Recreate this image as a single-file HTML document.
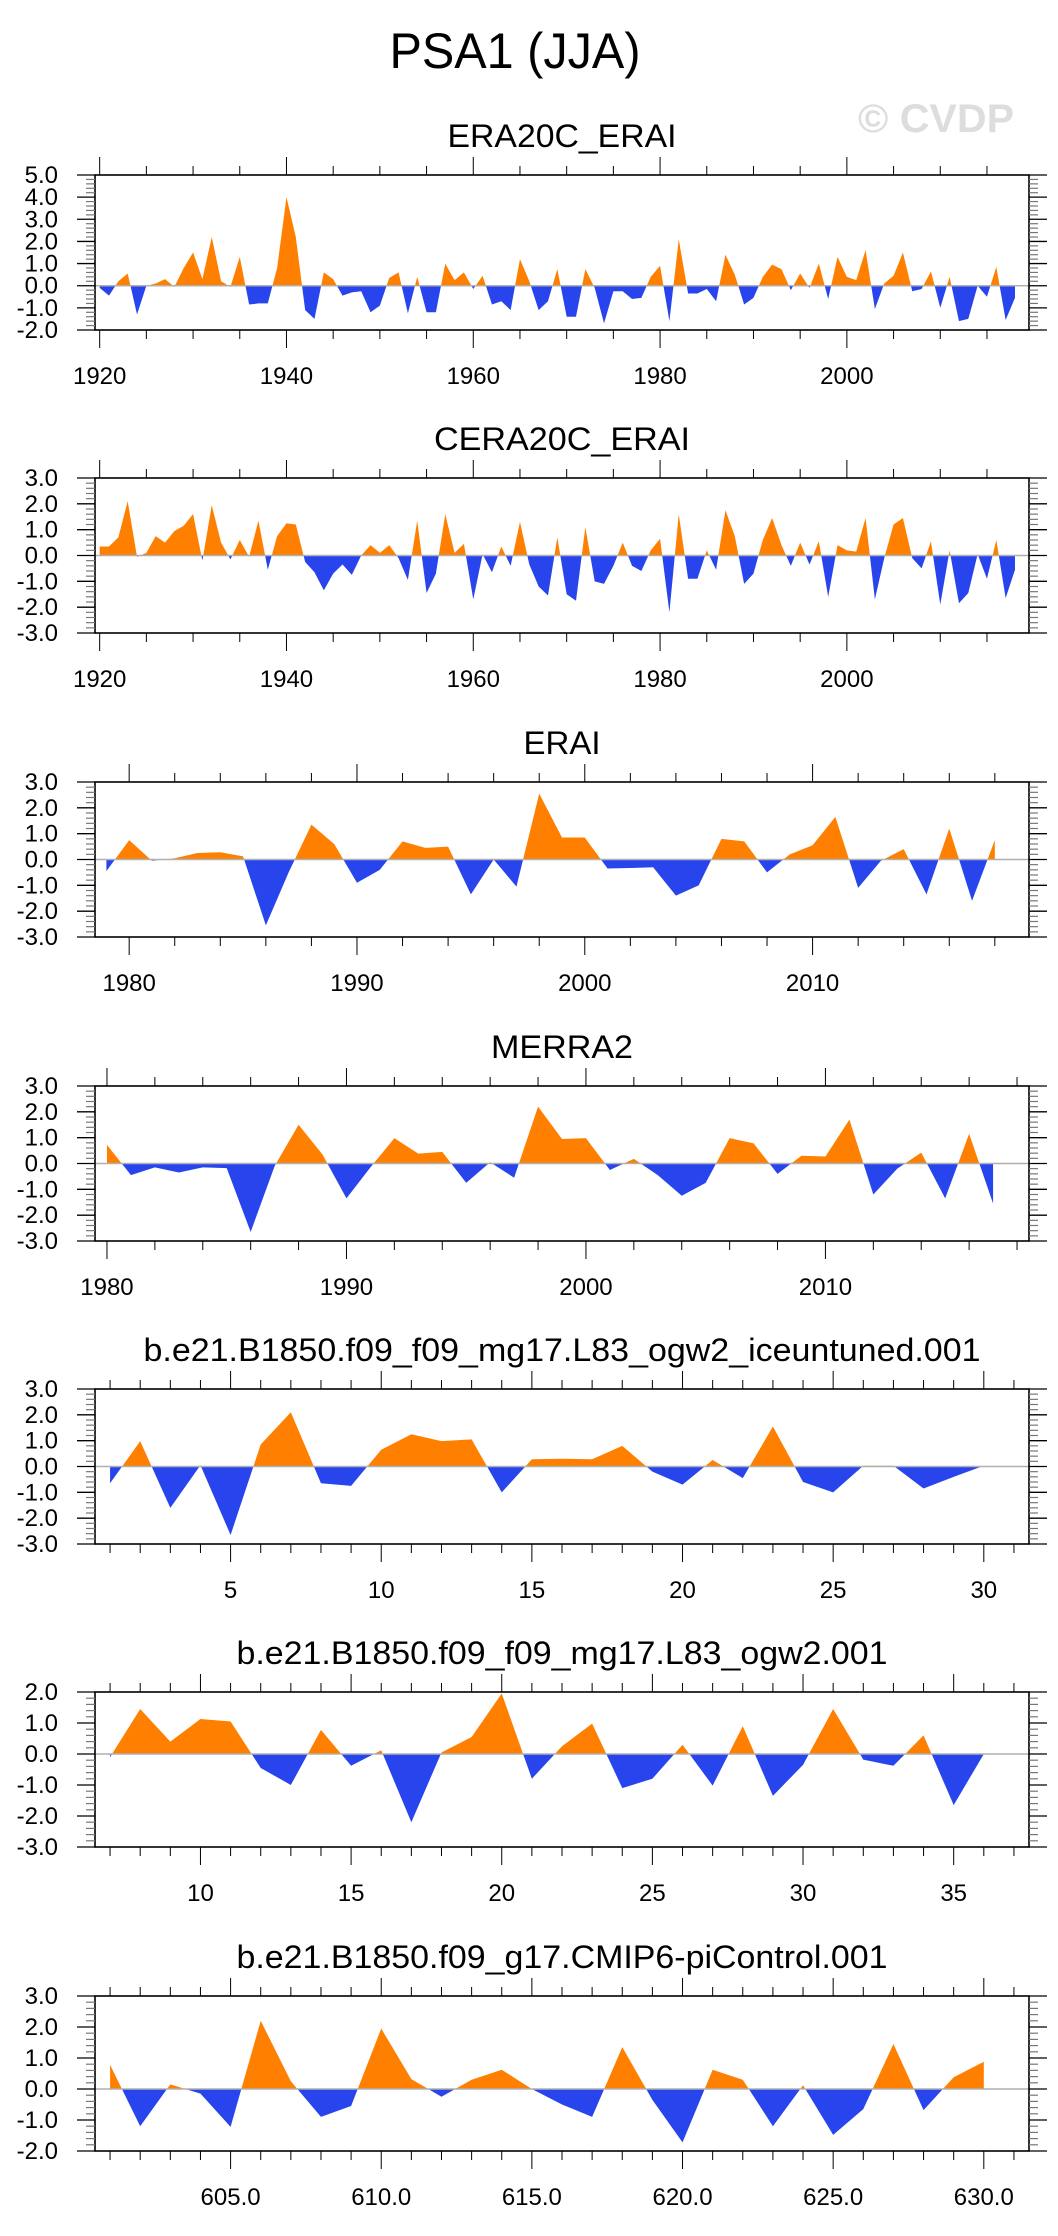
<!DOCTYPE html>
<html><head><meta charset="utf-8"><style>
html,body{margin:0;padding:0;background:#fff;}
svg{display:block;font-family:"Liberation Sans",Arial,sans-serif;}
</style></head><body>
<svg id="chart" width="1058" height="2236" viewBox="0 0 1058 2236" xmlns="http://www.w3.org/2000/svg">
<text x="515" y="68" font-size="50" text-anchor="middle" textLength="251" lengthAdjust="spacingAndGlyphs">PSA1 (JJA)</text>
<text x="858" y="132" font-size="40" font-weight="bold" fill="#dddddd" textLength="156" lengthAdjust="spacingAndGlyphs">© CVDP</text>
</svg>
<script>
// ---- data ----
const era20cYears = [1920, 2018];
const era20cValues = [-0.1,-0.45,0.2,0.55,-1.3,0,0.1,0.3,-0.05,0.8,1.5,0.3,2.2,0.2,-0.05,1.3,-0.85,-0.8,-0.8,0.8,4.0,2.2,-1.1,-1.5,0.6,0.3,-0.45,-0.3,-0.25,-1.2,-0.9,0.35,0.6,-1.25,0.4,-1.2,-1.2,1.0,0.25,0.6,-0.15,0.45,-0.85,-0.7,-1.1,1.2,0.2,-1.1,-0.7,0.75,-1.4,-1.4,0.75,-0.1,-1.7,-0.25,-0.25,-0.6,-0.55,0.4,0.9,-1.6,2.1,-0.35,-0.35,-0.15,-0.7,1.4,0.5,-0.85,-0.55,0.4,0.95,0.75,-0.2,0.55,-0.1,1.0,-0.6,1.3,0.4,0.25,1.6,-1.05,0.1,0.45,1.5,-0.25,-0.15,0.65,-1.0,0.4,-1.6,-1.5,0.0,-0.5,0.85,-1.55,-0.55];
const cera20cValues = [0.35,0.35,0.7,2.1,-0.05,0.1,0.75,0.5,0.95,1.15,1.6,-0.2,1.95,0.5,-0.15,0.6,-0.05,1.35,-0.55,0.75,1.25,1.2,-0.25,-0.65,-1.35,-0.7,-0.35,-0.75,0.0,0.4,0.1,0.4,-0.1,-0.95,1.35,-1.45,-0.7,1.6,0.1,0.45,-1.7,0.05,-0.65,0.35,-0.4,1.3,-0.35,-1.2,-1.55,0.7,-1.5,-1.75,1.1,-1.0,-1.1,-0.4,0.5,-0.4,-0.6,0.2,0.65,-2.2,1.6,-0.9,-0.9,0.2,-0.55,1.75,0.75,-1.1,-0.7,0.6,1.45,0.4,-0.4,0.5,-0.35,0.55,-1.6,0.4,0.2,0.15,1.45,-1.7,-0.1,1.2,1.45,-0.1,-0.5,0.55,-1.9,0.2,-1.85,-1.45,0.05,-0.9,0.6,-1.65,-0.55];
const eraiValues = [-0.45,0.75,-0.05,0.05,0.25,0.28,0.12,-2.55,-0.5,1.35,0.6,-0.9,-0.4,0.7,0.45,0.5,-1.35,0.0,-1.05,2.55,0.85,0.85,-0.35,-0.33,-0.3,-1.4,-1.0,0.8,0.7,-0.5,0.2,0.55,1.65,-1.1,-0.05,0.4,-1.35,1.2,-1.6,0.75];
const merra2Values = [0.72,-0.45,-0.15,-0.35,-0.15,-0.18,-2.65,-0.1,1.5,0.35,-1.35,-0.15,0.98,0.38,0.45,-0.75,0.05,-0.55,2.2,0.95,0.98,-0.25,0.18,-0.45,-1.25,-0.75,0.98,0.78,-0.4,0.3,0.27,1.7,-1.2,-0.2,0.42,-1.35,1.15,-1.55];
const iceuntunedValues = [-0.65,0.98,-1.6,0.05,-2.65,0.85,2.1,-0.65,-0.75,0.65,1.25,0.98,1.05,-1.0,0.28,0.3,0.28,0.8,-0.2,-0.7,0.25,-0.45,1.55,-0.6,-1.0,0.03,0.03,-0.85,-0.4,0.03];
const ogw2Values = [-0.1,1.45,0.4,1.13,1.05,-0.45,-1.0,0.78,-0.38,0.12,-2.2,0.05,0.55,1.95,-0.8,0.25,0.98,-1.1,-0.8,0.3,-1.02,0.9,-1.35,-0.35,1.45,-0.18,-0.38,0.6,-1.65,0.0];
const picontrolValues = [0.78,-1.2,0.15,-0.15,-1.22,2.2,0.25,-0.9,-0.55,1.95,0.32,-0.25,0.3,0.62,0.0,-0.5,-0.9,1.35,-0.35,-1.72,0.62,0.3,-1.2,0.12,-1.48,-0.65,1.45,-0.68,0.38,0.88];
const panelTitles = ["ERA20C_ERAI","CERA20C_ERAI","ERAI","MERRA2","b.e21.B1850.f09_f09_mg17.L83_ogw2_iceuntuned.001","b.e21.B1850.f09_f09_mg17.L83_ogw2.001","b.e21.B1850.f09_g17.CMIP6-piControl.001"];
const xStarts = [1920,1920,1979,1980,1,7,601];
const yRanges = [[-2,5],[-3,3],[-3,3],[-3,3],[-3,3],[-3,2],[-2,3]];
const xRanges = [[1919.5,2019.5],[1919.5,2019.5],[1978.5,2019.5],[1979.5,2018.5],[0.5,31.5],[6.5,37.5],[600.5,631.5]];
const xLabelValues = [[1920,1940,1960,1980,2000],[1920,1940,1960,1980,2000],[1980,1990,2000,2010],[1980,1990,2000,2010],[5,10,15,20,25,30],[10,15,20,25,30,35],[605,610,615,620,625,630]];
const allValues = [era20cValues,cera20cValues,eraiValues,merra2Values,iceuntunedValues,ogw2Values,picontrolValues];

// ---- layout ----
const NS="http://www.w3.org/2000/svg";
const svg=document.getElementById('chart');
const FL=95, FR=1029, FH=155;
const tops=[175,478,782,1086,1389,1692,1996];
const titleLens=[229,256,77,142,837,651,651];
const minorSteps=[5,5,2,2,1,1,1];
const majorSteps=[20,20,10,10,5,5,5];
const slugs=['era20c-erai','cera20c-erai','erai','merra2','ogw2-iceuntuned','ogw2','cmip6-picontrol'];
function mk(tag,attrs,parent){const e=document.createElementNS(NS,tag);for(const k in attrs)e.setAttribute(k,attrs[k]);(parent||svg).appendChild(e);return e;}

allValues.forEach((vals,p)=>{
  const top=tops[p], bot=top+FH;
  const [ymin,ymax]=yRanges[p], [xmin,xmax]=xRanges[p];
  const X=v=>FL+(v-xmin)/(xmax-xmin)*(FR-FL);
  const Y=v=>bot-(v-ymin)/(ymax-ymin)*FH;
  const g=mk('g',{});
  
  
  const t=mk('text',{x:(FL+FR)/2,y:top-28,'font-size':32,'text-anchor':'middle',textLength:titleLens[p],lengthAdjust:'spacingAndGlyphs'},g);
  t.textContent=panelTitles[p];
  
  
  // fills
  const y0=Y(0);
  let d='M'+X(xStarts[p])+','+y0;
  vals.forEach((v,i)=>{d+=' L'+X(xStarts[p]+i)+','+Y(v);});
  d+=' L'+X(xStarts[p]+vals.length-1)+','+y0+' Z';
  const cidA='ca'+p, cidB='cb'+p;
  const defs=mk('defs',{},g);
  const c1=mk('clipPath',{id:cidA},defs); mk('rect',{x:0,y:0,width:1058,height:y0},c1);
  const c2=mk('clipPath',{id:cidB},defs); mk('rect',{x:0,y:y0,width:1058,height:2236},c2);
  const pos=mk('path',{d:d,fill:'#ff8000','clip-path':'url(#'+cidA+')'},g);
  
  
  const neg=mk('path',{d:d,fill:'#2845ed','clip-path':'url(#'+cidB+')'},g);
  
  
  const zl=mk('line',{x1:FL,x2:FR,y1:y0,y2:y0,stroke:'#b0b0b0','stroke-width':1.5},g);
  
  
  // frame
  const fr=mk('rect',{x:FL,y:top,width:FR-FL,height:FH,fill:'none',stroke:'#000','stroke-width':1.6},g);
  
  
  // y ticks
  for(let k=Math.round(ymin*5);k<=Math.round(ymax*5);k++){
    const v=k/5, yy=Y(v), major=(k%5===0);
    const L=major?18:9;
    mk('line',{x1:FL-L,x2:FL,y1:yy,y2:yy,stroke:major?'#000':'#777','stroke-width':major?1.3:1.2},g);
    mk('line',{x1:FR,x2:FR+L,y1:yy,y2:yy,stroke:major?'#000':'#777','stroke-width':major?1.3:1.2},g);
    if(major){
      const yl=mk('text',{x:58,y:yy+8,'font-size':24,'text-anchor':'end'},g);
      yl.textContent=v.toFixed(1);
      
      
    }
  }
  // x ticks
  const ms=minorSteps[p];
  for(let v=Math.ceil(xmin/ms)*ms; v<=xmax; v+=ms){
    const xx=X(v), major=(v%majorSteps[p]===0);
    const L=major?18:9;
    mk('line',{x1:xx,x2:xx,y1:top-L,y2:top,stroke:'#000','stroke-width':1},g);
    mk('line',{x1:xx,x2:xx,y1:bot,y2:bot+L,stroke:'#000','stroke-width':1},g);
  }
  xLabelValues[p].forEach(v=>{
    const xl=mk('text',{x:X(v),y:bot+54,'font-size':24,'text-anchor':'middle'},g);
    xl.textContent=(p===6)?v.toFixed(1):String(v);
    
    
  });
});
</script>
</body></html>
